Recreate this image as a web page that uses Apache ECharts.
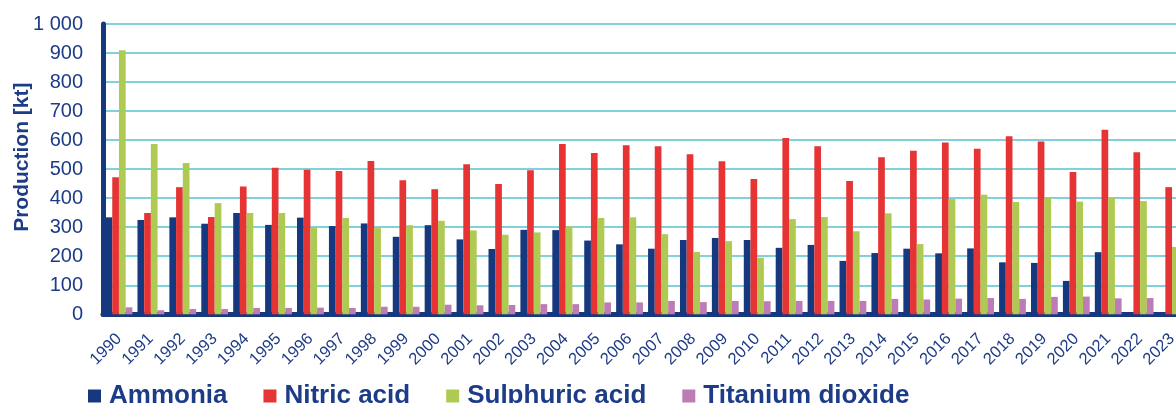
<!DOCTYPE html>
<html>
<head>
<meta charset="utf-8">
<script src="https://cdn.jsdelivr.net/npm/echarts@6/dist/echarts.min.js"></script>
<style>
html,body{margin:0;padding:0;background:#fff;}
#chart{width:1176px;height:403px;}
</style>
</head>
<body>
<div id="chart"></div>
<script>
var years = ['1990','1991','1992','1993','1994','1995','1996','1997','1998','1999','2000','2001','2002','2003','2004','2005','2006','2007','2008','2009','2010','2011','2012','2013','2014','2015','2016','2017','2018','2019','2020','2021','2022','2023'];
var ammonia = [334,325,334,312,349,308,333,304,313,267,307,258,225,291,290,254,241,226,256,263,256,229,239,184,211,226,210,227,179,177,115,214,0,0];
var nitricAcid = [472,349,438,335,440,505,498,494,528,462,431,517,449,496,587,556,582,579,551,527,466,607,579,459,541,563,592,570,613,595,490,636,558,438];
var sulphuricAcid = [910,587,521,383,349,349,300,332,300,307,322,289,274,282,303,332,334,276,215,252,195,328,335,286,348,242,397,412,387,404,388,402,390,232];
var titaniumDioxide = [24,14,18,18,22,22,23,22,26,26,33,31,32,35,35,41,41,46,42,46,45,46,46,46,53,51,54,56,53,60,61,55,56,55];
var yTickLabels = ['0','100','200','300','400','500','600','700','800','900','1 000'];
var seriesNames = ['Ammonia','Nitric acid','Sulphuric acid','Titanium dioxide'];

var navy = '#16387f';
var textNavy = '#1d3c87';
var font = '"Liberation Sans", Arial, sans-serif';

var chart = echarts.init(document.getElementById('chart'), null, {renderer:'canvas'});
function bar(name, data, color){
  return {name:name, type:'bar', data:data, barGap:'0%', barCategoryGap:'16%',
    itemStyle:{color:color}, animation:false};
}
chart.setOption({
  animation:false,
  backgroundColor:'#ffffff',
  grid:{left:103, top:24, width:1085, height:290.3, containLabel:false, outerBoundsMode:'none'},
  legend:{
    data:seriesNames, left:88, top:383, padding:0, itemWidth:13, itemHeight:13, itemGap:36,
    icon:'rect',
    textStyle:{color:textNavy, fontSize:26, fontWeight:'bold', fontFamily:font, lineHeight:26, padding:[0,0,0,3]}
  },
  xAxis:{
    type:'category', data:years,
    axisLine:{lineStyle:{color:navy, width:5}},
    axisTick:{show:false},
    axisLabel:{rotate:45, margin:22, color:textNavy, fontSize:16.5, fontFamily:font, interval:0}
  },
  yAxis:{
    type:'value', min:0, max:1000, interval:100,
    name:'Production [kt]', nameLocation:'middle', nameGap:70, nameRotate:90, nameMoveOverlap:false,
    nameTextStyle:{color:textNavy, fontSize:21, fontWeight:'bold', fontFamily:font, padding:[0,0,0,24]},
    axisLine:{show:true, lineStyle:{color:navy, width:5}},
    axisTick:{show:false},
    axisLabel:{margin:20, color:textNavy, fontSize:20, fontFamily:font,
      formatter:function(v){ return yTickLabels[Math.round(v/100)]; }},
    splitLine:{lineStyle:{color:'#57c2d0', width:1.5}}
  },
  series:[
    bar(seriesNames[0], ammonia, navy),
    bar(seriesNames[1], nitricAcid, '#e63334'),
    bar(seriesNames[2], sulphuricAcid, '#afca52'),
    bar(seriesNames[3], titaniumDioxide, '#bd7db4')
  ]
});
</script>
</body>
</html>
